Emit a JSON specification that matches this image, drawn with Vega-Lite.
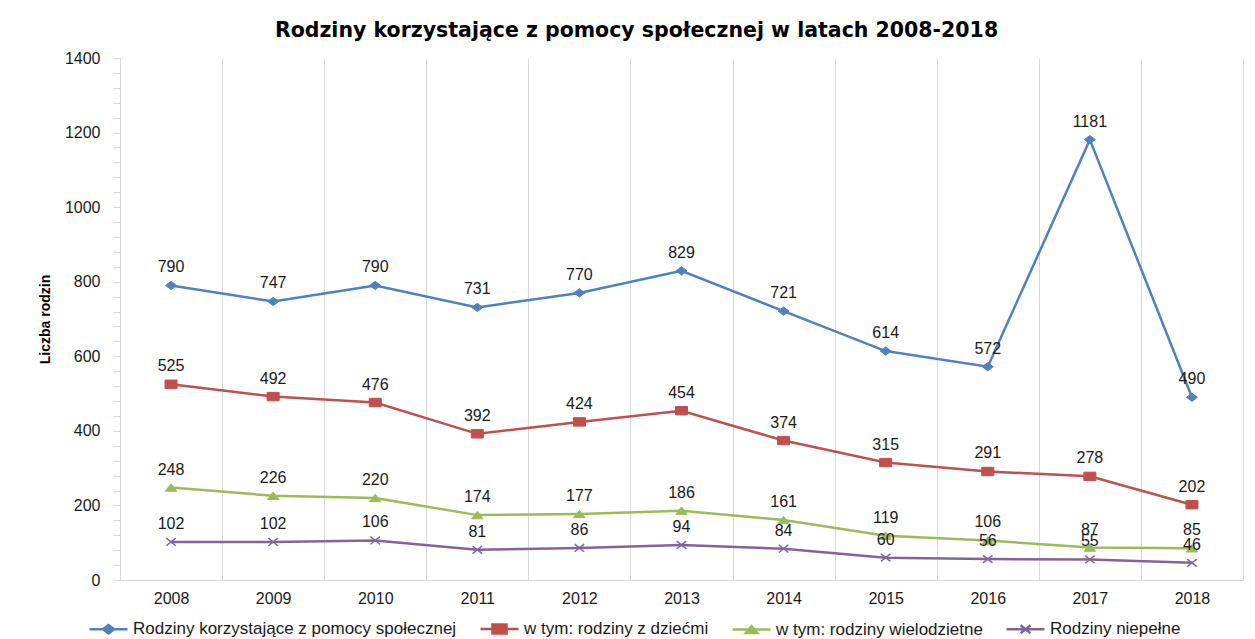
{
  "$schema": "https://vega.github.io/schema/vega-lite/v6.json",
  "autosize": {"type": "none"},
  "padding": {"left": 120, "top": 58, "right": 12, "bottom": 59},
  "width": 1123,
  "height": 522,
  "background": "white",
  "title": {
    "text": "Rodziny korzystające z pomocy społecznej w latach 2008-2018",
    "font": "DejaVu Sans",
    "fontSize": 20.5,
    "fontWeight": "bold",
    "color": "#000000",
    "anchor": "middle",
    "dx": -45,
    "offset": 9
  },
  "data": {
    "values": [
      {"rok": "2008", "seria": "Rodziny korzystające z pomocy społecznej", "wartosc": 790},
      {"rok": "2009", "seria": "Rodziny korzystające z pomocy społecznej", "wartosc": 747},
      {"rok": "2010", "seria": "Rodziny korzystające z pomocy społecznej", "wartosc": 790},
      {"rok": "2011", "seria": "Rodziny korzystające z pomocy społecznej", "wartosc": 731},
      {"rok": "2012", "seria": "Rodziny korzystające z pomocy społecznej", "wartosc": 770},
      {"rok": "2013", "seria": "Rodziny korzystające z pomocy społecznej", "wartosc": 829},
      {"rok": "2014", "seria": "Rodziny korzystające z pomocy społecznej", "wartosc": 721},
      {"rok": "2015", "seria": "Rodziny korzystające z pomocy społecznej", "wartosc": 614},
      {"rok": "2016", "seria": "Rodziny korzystające z pomocy społecznej", "wartosc": 572},
      {"rok": "2017", "seria": "Rodziny korzystające z pomocy społecznej", "wartosc": 1181},
      {"rok": "2018", "seria": "Rodziny korzystające z pomocy społecznej", "wartosc": 490},
      {"rok": "2008", "seria": "w tym: rodziny z dziećmi", "wartosc": 525},
      {"rok": "2009", "seria": "w tym: rodziny z dziećmi", "wartosc": 492},
      {"rok": "2010", "seria": "w tym: rodziny z dziećmi", "wartosc": 476},
      {"rok": "2011", "seria": "w tym: rodziny z dziećmi", "wartosc": 392},
      {"rok": "2012", "seria": "w tym: rodziny z dziećmi", "wartosc": 424},
      {"rok": "2013", "seria": "w tym: rodziny z dziećmi", "wartosc": 454},
      {"rok": "2014", "seria": "w tym: rodziny z dziećmi", "wartosc": 374},
      {"rok": "2015", "seria": "w tym: rodziny z dziećmi", "wartosc": 315},
      {"rok": "2016", "seria": "w tym: rodziny z dziećmi", "wartosc": 291},
      {"rok": "2017", "seria": "w tym: rodziny z dziećmi", "wartosc": 278},
      {"rok": "2018", "seria": "w tym: rodziny z dziećmi", "wartosc": 202},
      {"rok": "2008", "seria": "w tym: rodziny wielodzietne", "wartosc": 248},
      {"rok": "2009", "seria": "w tym: rodziny wielodzietne", "wartosc": 226},
      {"rok": "2010", "seria": "w tym: rodziny wielodzietne", "wartosc": 220},
      {"rok": "2011", "seria": "w tym: rodziny wielodzietne", "wartosc": 174},
      {"rok": "2012", "seria": "w tym: rodziny wielodzietne", "wartosc": 177},
      {"rok": "2013", "seria": "w tym: rodziny wielodzietne", "wartosc": 186},
      {"rok": "2014", "seria": "w tym: rodziny wielodzietne", "wartosc": 161},
      {"rok": "2015", "seria": "w tym: rodziny wielodzietne", "wartosc": 119},
      {"rok": "2016", "seria": "w tym: rodziny wielodzietne", "wartosc": 106},
      {"rok": "2017", "seria": "w tym: rodziny wielodzietne", "wartosc": 87},
      {"rok": "2018", "seria": "w tym: rodziny wielodzietne", "wartosc": 85},
      {"rok": "2008", "seria": "Rodziny niepełne", "wartosc": 102},
      {"rok": "2009", "seria": "Rodziny niepełne", "wartosc": 102},
      {"rok": "2010", "seria": "Rodziny niepełne", "wartosc": 106},
      {"rok": "2011", "seria": "Rodziny niepełne", "wartosc": 81},
      {"rok": "2012", "seria": "Rodziny niepełne", "wartosc": 86},
      {"rok": "2013", "seria": "Rodziny niepełne", "wartosc": 94},
      {"rok": "2014", "seria": "Rodziny niepełne", "wartosc": 84},
      {"rok": "2015", "seria": "Rodziny niepełne", "wartosc": 60},
      {"rok": "2016", "seria": "Rodziny niepełne", "wartosc": 56},
      {"rok": "2017", "seria": "Rodziny niepełne", "wartosc": 55},
      {"rok": "2018", "seria": "Rodziny niepełne", "wartosc": 46}
    ]
  },
  "encoding": {
    "x": {
      "field": "rok",
      "type": "nominal",
      "scale": {"paddingInner": 0, "paddingOuter": 0},
      "axis": {
        "title": null,
        "labelAngle": 0,
        "tickBand": "extent",
        "grid": true,
        "gridColor": "#d9d9d9",
        "domainColor": "#d9d9d9",
        "ticks": false,
        "labelFont": "Liberation Sans",
        "labelFontSize": 16,
        "labelColor": "#1a1a1a",
        "labelPadding": 10
      }
    },
    "y": {
      "field": "wartosc",
      "type": "quantitative",
      "scale": {"domain": [0, 1400], "nice": false},
      "axis": {
        "title": "Liczba rodzin",
        "titleFont": "Liberation Sans",
        "titleFontSize": 14,
        "titleFontWeight": "bold",
        "titleColor": "#000000",
        "titlePadding": 12,
        "values": [0, 40, 80, 120, 160, 200, 240, 280, 320, 360, 400, 440, 480, 520, 560, 600, 640, 680, 720, 760, 800, 840, 880, 920, 960, 1000, 1040, 1080, 1120, 1160, 1200, 1240, 1280, 1320, 1360, 1400],
        "labelExpr": "datum.value % 200 == 0 ? datum.label : ''",
        "format": "d",
        "grid": false,
        "tickColor": "#d9d9d9",
        "tickSize": 7,
        "domainColor": "#d9d9d9",
        "labelFont": "Liberation Sans",
        "labelFontSize": 16,
        "labelColor": "#1a1a1a",
        "labelPadding": 13
      }
    }
  },
  "layer": [
    {
      "mark": {"type": "line", "strokeWidth": 2.5},
      "encoding": {
        "color": {
          "field": "seria",
          "type": "nominal",
          "sort": ["Rodziny korzystające z pomocy społecznej", "w tym: rodziny z dziećmi", "w tym: rodziny wielodzietne", "Rodziny niepełne"],
          "scale": {
            "domain": ["Rodziny korzystające z pomocy społecznej", "w tym: rodziny z dziećmi", "w tym: rodziny wielodzietne", "Rodziny niepełne"],
            "range": ["#4F81BD", "#C0504D", "#9BBB59", "#8064A2"]
          },
          "legend": {
            "title": null,
            "orient": "none",
            "direction": "horizontal",
            "legendX": -32,
            "legendY": 550,
            "symbolSize": 1444,
            "labelFont": "Liberation Sans",
            "labelFontSize": 17,
            "labelColor": "#1a1a1a",
            "labelLimit": 600,
            "labelOffset": 4,
            "columnPadding": 18,
            "encode": {
              "symbols": {
                "update": {
                  "shape": {"signal": "datum.value === 'Rodziny korzystające z pomocy społecznej' ? 'M-1,0H1M0,-0.22L0.29,0L0,0.22L-0.29,0Z' : datum.value === 'w tym: rodziny z dziećmi' ? 'M-1,0H1M-0.37,-0.24H0.37V0.24H-0.37Z' : datum.value === 'w tym: rodziny wielodzietne' ? 'M-1,0H1M0,-0.18L0.3,0.18L-0.3,0.18Z' : 'M-1,0H1M-0.26,-0.21L0.26,0.21M-0.26,0.21L0.26,-0.21'"},
                  "fill": {"signal": "scale('color', datum.value)"},
                  "stroke": {"signal": "scale('color', datum.value)"},
                  "strokeWidth": {"value": 2.5},
                  "size": {"value": 1444},
                  "opacity": {"value": 1},
                  "fillOpacity": {"value": 1}
                }
              }
            }
          }
        }
      }
    },
    {
      "transform": [{"filter": "datum.seria === 'Rodziny korzystające z pomocy społecznej'"}],
      "mark": {"type": "point", "filled": true, "opacity": 1, "shape": "M0,-0.75L1,0L0,0.75L-1,0Z", "size": 121, "fill": "#4F81BD", "stroke": "#4F81BD", "strokeWidth": 1}
    },
    {
      "transform": [{"filter": "datum.seria === 'w tym: rodziny z dziećmi'"}],
      "mark": {"type": "point", "filled": true, "opacity": 1, "shape": "M-1,-0.7H1V0.7H-1Z", "size": 144, "fill": "#C0504D", "stroke": "#C0504D", "strokeWidth": 1}
    },
    {
      "transform": [{"filter": "datum.seria === 'w tym: rodziny wielodzietne'"}],
      "mark": {"type": "point", "filled": true, "opacity": 1, "shape": "M0,-0.65L1,0.65L-1,0.65Z", "size": 130, "fill": "#9BBB59", "stroke": "#9BBB59", "strokeWidth": 1}
    },
    {
      "transform": [{"filter": "datum.seria === 'Rodziny niepełne'"}],
      "mark": {"type": "point", "filled": false, "opacity": 1, "shape": "M-1,-0.8L1,0.8M-1,0.8L1,-0.8", "size": 90, "stroke": "#8064A2", "strokeWidth": 1.5}
    },
    {
      "mark": {"type": "text", "dy": -18, "font": "Liberation Sans", "fontSize": 16, "color": "#1a1a1a"},
      "encoding": {
        "text": {"field": "wartosc", "type": "quantitative"}
      }
    }
  ],
  "config": {
    "view": {"stroke": null}
  }
}
